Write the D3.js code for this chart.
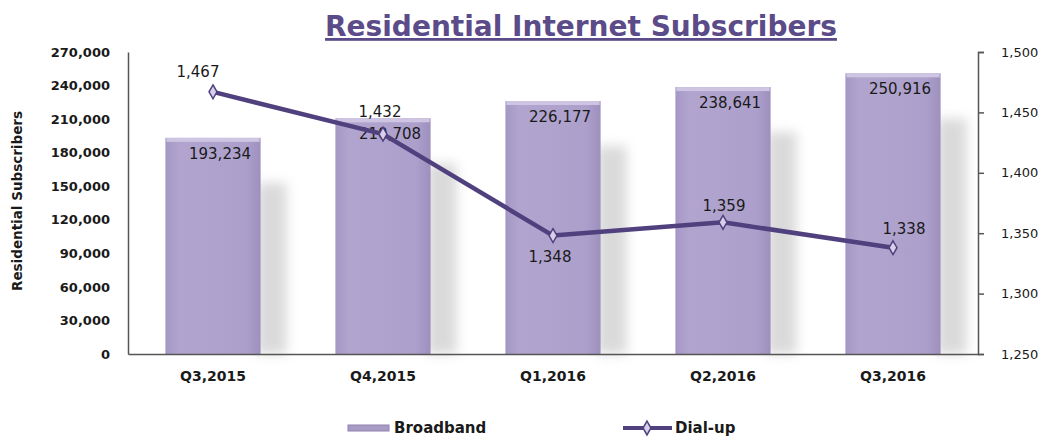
<!DOCTYPE html>
<html>
<head>
<meta charset="utf-8">
<script src="https://cdn.jsdelivr.net/npm/d3@7/dist/d3.min.js"></script>
<style>
  body { margin: 0; background: #fff; }
  text { font-family: "DejaVu Sans", sans-serif; }
</style>
</head>
<body>
<svg id="chart" width="1057" height="439"></svg>
<script>
var quarters = ["Q3,2015", "Q4,2015", "Q1,2016", "Q2,2016", "Q3,2016"];
var broadband = [193234, 210708, 226177, 238641, 250916];
var dialup = [1467, 1432, 1348, 1359, 1338];
var leftTicks = [0, 30000, 60000, 90000, 120000, 150000, 180000, 210000, 240000, 270000];
var rightTicks = [1250, 1300, 1350, 1400, 1450, 1500];
// label offsets for dial-up values, relative to the point
var dialDx = [-15, -3, -3, 1, 11];
var dialDy = [-15, -17, 26, -11, -14];

var svg = d3.select("#chart"),
	margin = { top: 52, right: 79, bottom: 85, left: 128 },
	width = +svg.attr("width") - margin.left - margin.right,
	height = +svg.attr("height") - margin.top - margin.bottom,
	g = svg.append("g").attr("transform", "translate(" + margin.left + "," + margin.top + ")");

var fmt = d3.format(",");
var purple = "#50407e";
var ink = "#1a1a1a";

var defs = svg.append("defs");
var grad = defs.append("linearGradient").attr("id", "barGrad").attr("x1", 0).attr("x2", 1).attr("y1", 0).attr("y2", 0);
grad.append("stop").attr("offset", "0%").attr("stop-color", "#a597c4");
grad.append("stop").attr("offset", "15%").attr("stop-color", "#b1a5cf");
grad.append("stop").attr("offset", "85%").attr("stop-color", "#ad9fcb");
grad.append("stop").attr("offset", "100%").attr("stop-color", "#9e90bd");
var blur = defs.append("filter").attr("id", "shadow").attr("x", "-50%").attr("width", "200%");
blur.append("feGaussianBlur").attr("stdDeviation", 6);

var x = d3.scaleBand().domain(quarters).range([0, width]).paddingInner(0.44).paddingOuter(0.22);
var yL = d3.scaleLinear().domain([0, 270000]).range([height, 0]);
var yR = d3.scaleLinear().domain([1250, 1500]).range([height, 0]);
var cx = function (i) { return x(quarters[i]) + x.bandwidth() / 2; };

// title
svg.append("text")
	.attr("x", 581).attr("y", 36)
	.attr("text-anchor", "middle")
	.attr("font-size", 28).attr("font-weight", "bold")
	.attr("fill", "#5b4b88")
	.attr("text-decoration", "underline")
	.text("Residential Internet Subscribers");

// bar shadows
g.selectAll(".shade").data(broadband).enter().append("rect")
	.attr("x", function (d, i) { return x(quarters[i]) + x.bandwidth() - 4; })
	.attr("y", function (d) { return yL(d) + 45; })
	.attr("width", 30)
	.attr("height", function (d) { return height - yL(d) - 45; })
	.attr("fill", "#bcbcbc")
	.attr("opacity", 0.55)
	.attr("filter", "url(#shadow)");

// bars
g.selectAll(".bar").data(broadband).enter().append("rect")
	.attr("x", function (d, i) { return x(quarters[i]); })
	.attr("y", function (d) { return yL(d); })
	.attr("width", x.bandwidth())
	.attr("height", function (d) { return height - yL(d); })
	.attr("fill", "url(#barGrad)");
g.selectAll(".bartop").data(broadband).enter().append("rect")
	.attr("x", function (d, i) { return x(quarters[i]) + 1; })
	.attr("y", function (d) { return yL(d); })
	.attr("width", x.bandwidth() - 2)
	.attr("height", 4)
	.attr("fill", "#cdc5e1");

g.selectAll(".barlbl").data(broadband).enter().append("text")
	.attr("x", function (d, i) { return cx(i) + 7; })
	.attr("y", function (d) { return yL(d) + 21; })
	.attr("text-anchor", "middle")
	.attr("font-size", 15)
	.attr("fill", ink)
	.text(function (d) { return fmt(d); });

// axes
var axL = g.append("g").call(d3.axisLeft(yL).tickValues(leftTicks).tickFormat(fmt).tickSize(0).tickPadding(18));
var axR = g.append("g").attr("transform", "translate(" + width + ",0)")
	.call(d3.axisRight(yR).tickValues(rightTicks).tickFormat(fmt).tickSize(6).tickSizeOuter(6).tickPadding(17));
var axB = g.append("g").attr("transform", "translate(0," + height + ")")
	.call(d3.axisBottom(x).tickSize(0).tickPadding(17));
[axL, axR, axB].forEach(function (a) {
	a.selectAll("path, line").attr("stroke", "#555").attr("stroke-width", 1.5);
	a.selectAll("text").attr("font-size", 13).attr("font-weight", "bold").attr("fill", ink)
		.style("font-family", "'DejaVu Sans', sans-serif");
});
axR.selectAll("text").attr("font-weight", "normal").attr("font-size", 13);
axB.selectAll("text").attr("font-size", 14);

svg.append("text")
	.attr("transform", "translate(22," + (margin.top + height / 2 - 2) + ") rotate(-90)")
	.attr("text-anchor", "middle")
	.attr("font-size", 13.5).attr("font-weight", "bold")
	.attr("fill", ink)
	.text("Residential Subscribers");

// dial-up line
var line = d3.line()
	.x(function (d, i) { return cx(i); })
	.y(function (d) { return yR(d); });
g.append("path").datum(dialup)
	.attr("fill", "none").attr("stroke", purple).attr("stroke-width", 4.5)
	.attr("stroke-linejoin", "round")
	.attr("d", line);
var diamond = d3.symbol().type(d3.symbolDiamond).size(55);
g.selectAll(".pt").data(dialup).enter().append("path")
	.attr("transform", function (d, i) { return "translate(" + cx(i) + "," + yR(d) + ")"; })
	.attr("d", diamond)
	.attr("fill", "#d8d0ea").attr("stroke", purple).attr("stroke-width", 1.5);
g.selectAll(".ptlbl").data(dialup).enter().append("text")
	.attr("x", function (d, i) { return cx(i) + dialDx[i]; })
	.attr("y", function (d, i) { return yR(d) + dialDy[i]; })
	.attr("text-anchor", "middle")
	.attr("font-size", 15)
	.attr("fill", ink)
	.text(function (d) { return fmt(d); });

// legend
var leg = svg.append("g").attr("transform", "translate(0,433)");
leg.append("rect").attr("x", 348).attr("y", -8).attr("width", 41).attr("height", 6).attr("fill", "#a89bc6").attr("stroke", "#8f82b0");
leg.append("text").attr("x", 394).attr("y", 0).attr("font-size", 15).attr("font-weight", "bold").attr("fill", ink).text("Broadband");
leg.append("line").attr("x1", 623).attr("x2", 672).attr("y1", -5).attr("y2", -5).attr("stroke", purple).attr("stroke-width", 4);
leg.append("path").attr("transform", "translate(647,-5)").attr("d", diamond).attr("fill", "#d8d0ea").attr("stroke", purple).attr("stroke-width", 1.5);
leg.append("text").attr("x", 675).attr("y", 0).attr("font-size", 15).attr("font-weight", "bold").attr("fill", ink).text("Dial-up");
</script>
</body>
</html>
